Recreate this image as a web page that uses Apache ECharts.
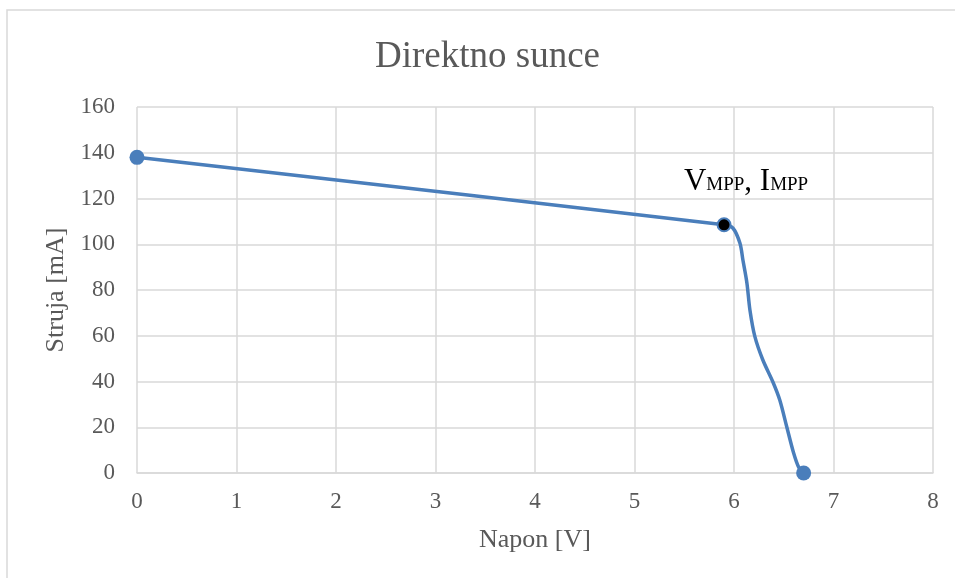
<!DOCTYPE html>
<html>
<head>
<meta charset="utf-8">
<script src="https://cdn.jsdelivr.net/npm/echarts@6/dist/echarts.min.js"></script>
<style>
html,body{margin:0;padding:0;background:#fff;}
#main{width:955px;height:578px;}
</style>
</head>
<body>
<div id="main"></div>
<script>
const titleText = 'Direktno sunce';
const xName = 'Napon [V]';
const yName = 'Struja [mA]';
const voltage = [0, 5.9, 5.99, 6.06, 6.09, 6.13, 6.16, 6.21, 6.29, 6.39, 6.46, 6.53, 6.6, 6.65, 6.7];
const current = [138, 108.5, 107, 100.4, 93, 83, 71.3, 59.6, 49.4, 39.9, 31.9, 20.2, 8.6, 2.5, 0];
const endPoints = [0, 14];
const mppIndex = 1;

const blue = '#4A7EBB';
const txt = '#595959';
const font = 'Liberation Serif';

const data = voltage.map((v, i) => {
  const item = { value: [v, current[i]], symbol: 'none' };
  if (endPoints.includes(i)) {
    item.symbol = 'circle';
    item.symbolSize = 15;
    item.itemStyle = { color: blue };
  }
  if (i === mppIndex) {
    item.symbol = 'circle';
    item.symbolSize = 13;
    item.itemStyle = { color: '#000', borderColor: blue, borderWidth: 2 };
    item.label = {
      show: true,
      position: 'top',
      offset: [22, -15],
      formatter: '{a|V}{b|MPP}{a|, I}{b|MPP}',
      rich: {
        a: { fontFamily: font, fontSize: 31, color: '#000', verticalAlign: 'bottom' },
        b: { fontFamily: font, fontSize: 19, color: '#000', verticalAlign: 'bottom', padding: [0, 0, 3, 0] }
      }
    };
  }
  return item;
});

const chart = echarts.init(document.getElementById('main'));
chart.setOption({
  animation: false,
  backgroundColor: '#fff',
  title: {
    text: titleText,
    left: 370,
    top: 34,
    textStyle: { fontFamily: font, fontSize: 37, fontWeight: 'normal', color: txt }
  },
  graphic: [{
    type: 'rect',
    shape: { x: 7, y: 10, width: 960, height: 600 },
    style: { fill: 'none', stroke: '#d9d9d9', lineWidth: 1.5 },
    silent: true
  }],
  grid: { left: 137, right: 22, top: 107, bottom: 105 },
  xAxis: {
    type: 'value', min: 0, max: 8, interval: 1,
    name: xName, nameLocation: 'middle', nameGap: 54,
    nameTextStyle: { fontFamily: font, fontSize: 26, color: txt },
    axisLine: { show: true, lineStyle: { color: '#d9d9d9', width: 1.5 } },
    axisTick: { show: false },
    axisLabel: { fontFamily: font, fontSize: 23, color: txt, margin: 17 },
    splitLine: { show: true, lineStyle: { color: '#d9d9d9', width: 1.5 } }
  },
  yAxis: {
    type: 'value', min: 0, max: 160, interval: 20,
    name: yName, nameLocation: 'middle', nameGap: 66,
    nameTextStyle: { fontFamily: font, fontSize: 26, color: txt },
    axisLine: { show: false },
    axisTick: { show: false },
    axisLabel: { fontFamily: font, fontSize: 23, color: txt, margin: 22 },
    splitLine: { show: true, lineStyle: { color: '#d9d9d9', width: 1.5 } }
  },
  series: [{
    type: 'line',
    smooth: 0.3,
    data: data,
    lineStyle: { color: blue, width: 3.5 },
    itemStyle: { color: blue },
    z: 3
  }]
});
</script>
</body>
</html>
